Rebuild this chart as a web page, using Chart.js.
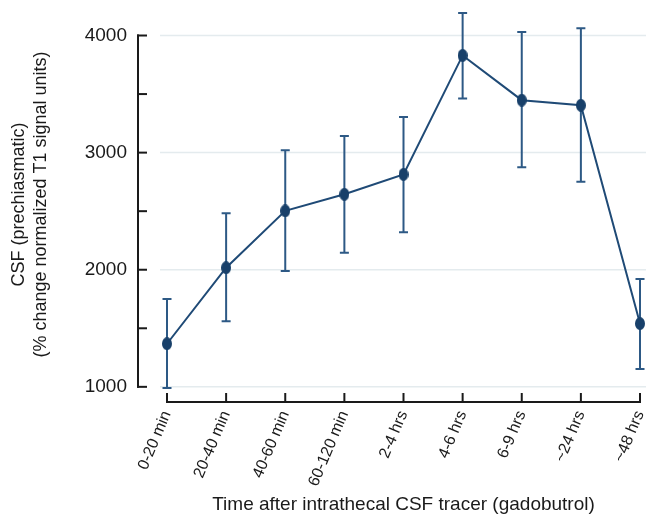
<!DOCTYPE html>
<html>
<head>
<meta charset="utf-8">
<script src="https://cdn.jsdelivr.net/npm/chart.js@4/dist/chart.umd.min.js"></script>
<style>
  html, body { margin:0; padding:0; background:#fff; }
</style>
</head>
<body>
<canvas id="chart" width="646" height="517"></canvas>
<script>
const labels = ["0-20 min","20-40 min","40-60 min","60-120 min","2-4 hrs","4-6 hrs","6-9 hrs","~24 hrs","~48 hrs"];
const means = [1368, 2017, 2503, 2644, 2814, 3830, 3448, 3404, 1540];
const upper = [1749, 2483, 3020, 3142, 3305, 4192, 4031, 4062, 1921];
const lower = [990, 1559, 1989, 2144, 2320, 3463, 2876, 2751, 1153];
const yTicks = [1000,1500,2000,2500,3000,3500,4000];
const gridValues = [1000,2000,3000,4000];

const FONT = "'Liberation Sans', Arial, sans-serif";
const lineColor = "#1f4a76";
const barColor = "#2d5985";
const ink = "#1a1a1a";

function ellipseMarker(w, h, color){
  const c = document.createElement("canvas");
  c.width = w; c.height = h;
  const g = c.getContext("2d");
  g.fillStyle = color;
  g.beginPath();
  g.ellipse(w/2, h/2, w/2, h/2, 0, 0, Math.PI*2);
  g.fill();
  return c;
}

// gridlines, offset axes and error bars (drawn behind the line)
const decorations = {
  id: "decorations",
  beforeDatasetsDraw(chart){
    const ctx = chart.ctx;
    const x = chart.scales.x, y = chart.scales.y;
    ctx.save();

    ctx.strokeStyle = "#e4ebee";
    ctx.lineWidth = 1.5;
    gridValues.forEach(v => {
      const py = y.getPixelForValue(v);
      ctx.beginPath(); ctx.moveTo(160, py); ctx.lineTo(646, py); ctx.stroke();
    });

    // y axis
    ctx.strokeStyle = ink;
    ctx.lineWidth = 2;
    const yTop = y.getPixelForValue(4000), yBot = y.getPixelForValue(1000);
    ctx.beginPath(); ctx.moveTo(138, yTop - 1); ctx.lineTo(138, yBot + 1); ctx.stroke();
    yTicks.forEach(v => {
      const py = y.getPixelForValue(v);
      ctx.beginPath(); ctx.moveTo(137, py); ctx.lineTo(147, py); ctx.stroke();
    });

    // x axis
    const axY = 402;
    ctx.beginPath(); ctx.moveTo(x.getPixelForValue(0) - 1, axY); ctx.lineTo(x.getPixelForValue(labels.length-1) + 1, axY); ctx.stroke();
    labels.forEach((l, i) => {
      const px = x.getPixelForValue(i);
      ctx.beginPath(); ctx.moveTo(px, axY + 1); ctx.lineTo(px, axY - 9); ctx.stroke();
    });

    // error bars
    ctx.strokeStyle = barColor;
    ctx.lineWidth = 2;
    means.forEach((m, i) => {
      const px = x.getPixelForValue(i);
      const pu = y.getPixelForValue(upper[i]);
      const pl = y.getPixelForValue(lower[i]);
      ctx.beginPath();
      ctx.moveTo(px, pu); ctx.lineTo(px, pl);
      ctx.moveTo(px - 4.5, pu); ctx.lineTo(px + 4.5, pu);
      ctx.moveTo(px - 4.5, pl); ctx.lineTo(px + 4.5, pl);
      ctx.stroke();
    });
    ctx.restore();
  }
};

new Chart(document.getElementById("chart"), {
  type: "line",
  data: {
    labels: labels,
    datasets: [{
      data: means,
      borderColor: lineColor,
      borderWidth: 2,
      pointStyle: ellipseMarker(10, 13, "#18406a"),
      clip: false,
      tension: 0
    }]
  },
  plugins: [decorations],
  options: {
    responsive: false,
    animation: false,
    devicePixelRatio: 1,
    layout: { padding: { top: 3, right: 5, left: 0, bottom: 0 } },
    plugins: { legend: { display: false }, tooltip: { enabled: false } },
    scales: {
      x: {
        offset: false,
        grid: { display: true, drawOnChartArea: false, drawTicks: true, tickLength: 5, tickColor: "rgba(0,0,0,0)" },
        border: { display: false },
        ticks: {
          minRotation: 67, maxRotation: 67, padding: 0,
          color: ink, font: { family: FONT, size: 16 }
        },
        title: {
          display: true,
          text: "Time after intrathecal CSF tracer (gadobutrol)",
          color: ink,
          font: { family: FONT, size: 19 },
          padding: { top: 0, bottom: 1 }
        },
        afterFit: s => { s.height = 114; s.paddingLeft = 0; s.paddingRight = 0; }
      },
      y: {
        min: 862, max: 4252,
        grid: { display: true, drawOnChartArea: false, drawTicks: true, tickLength: 40, tickColor: "rgba(0,0,0,0)" },
        border: { display: false },
        afterBuildTicks: s => { s.ticks = yTicks.map(v => ({ value: v })); },
        ticks: {
          padding: 0,
          color: ink,
          font: { family: FONT, size: 19 },
          callback: v => (v % 1000 === 0 ? String(v) : "")
        },
        title: {
          display: true,
          text: ["CSF (prechiasmatic)", "(% change normalized T1 signal units)"],
          color: ink,
          font: { family: FONT, size: 18, lineHeight: 1.22 },
          padding: { top: 8, bottom: 0 }
        },
        afterFit: s => { s.width = 167; s.paddingTop = 0; s.paddingBottom = 0; }
      }
    }
  }
});
</script>
</body>
</html>
